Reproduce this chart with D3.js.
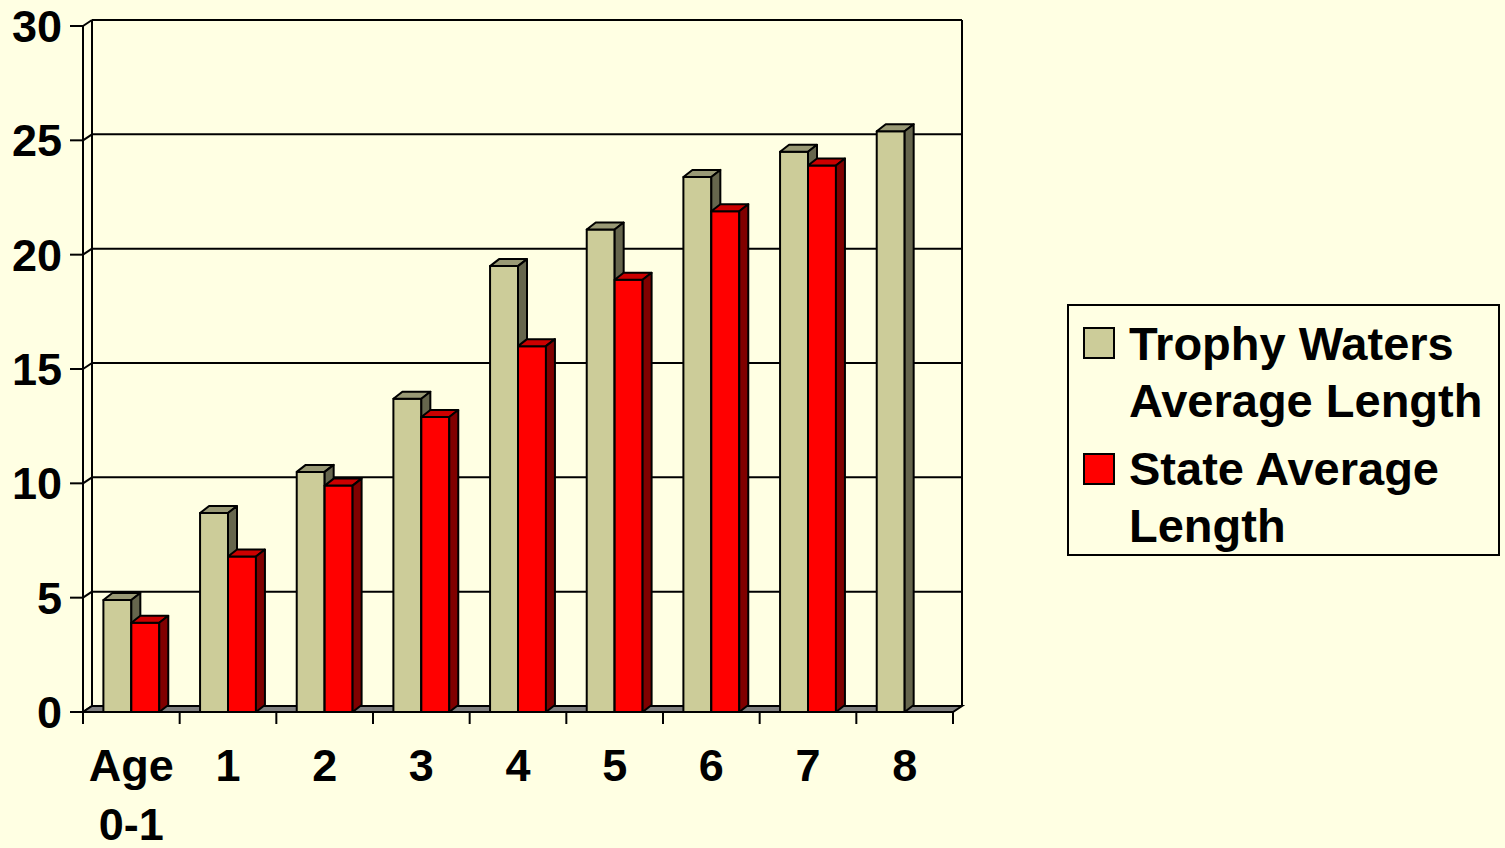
<!DOCTYPE html>
<html><head><meta charset="utf-8">
<script src="https://cdn.jsdelivr.net/npm/d3@7"></script>
<style>
html,body{margin:0;padding:0;background:#FFFFE3;}
svg{display:block;font-family:"Liberation Sans",Arial,sans-serif;font-weight:bold;}
</style></head>
<body>
<svg id="chart" width="1505" height="848"></svg>
<script>
const categories = ["Age\n0-1", "1", "2", "3", "4", "5", "6", "7", "8"];
const trophyValues = [4.9, 8.7, 10.5, 13.7, 19.5, 21.1, 23.4, 24.5, 25.4];
const stateValues = [3.9, 6.8, 9.9, 12.9, 16.0, 18.9, 21.9, 23.9, null];
const yTicks = [0, 5, 10, 15, 20, 25, 30];
const seriesNames = ["Trophy Waters\nAverage Length", "State Average\nLength"];

const svg = d3.select("#chart");
const DX = 9, DY = -6;      // wall depth offset
const BDX = 9, BDY = -7;    // bar depth offset
const left = 83, right = 953;

const y = d3.scaleLinear().domain([0, 30]).range([712, 26]);
const x0 = d3.scaleBand().domain(categories).range([left, right]).paddingInner(0).paddingOuter(0);
const x1 = d3.scaleBand().domain(["trophy", "state"]).range([0, x0.bandwidth()]).paddingInner(0).paddingOuter(0.73);

const styles = {
  trophy: {front: "#CCCC99", top: "#999975", side: "#66664D"},
  state: {front: "#FF0000", top: "#CC0000", side: "#800000"}
};

const g = svg.append("g");
const line = (x1_, y1_, x2_, y2_, w = 2) => g.append("line")
  .attr("x1", x1_).attr("y1", y1_).attr("x2", x2_).attr("y2", y2_)
  .attr("stroke", "#000").attr("stroke-width", w);

// back wall gridlines + left wall diagonals + ticks
yTicks.forEach(t => {
  const yy = y(t);
  line(left - 13, yy, left, yy);
  line(left, yy, left + DX, yy + DY);
  if (t > 0) line(left + DX, yy + DY, right + DX, yy + DY);
});
// back wall edges
line(left + DX, y(30) + DY, left + DX, y(0) + DY);
line(right + DX, y(30) + DY, right + DX, y(0) + DY);
// front axis line
line(left, y(30), left, y(0) + 12);

// floor
g.append("polygon")
  .attr("points", [[left, y(0)], [right, y(0)], [right + DX, y(0) + DY], [left + DX, y(0) + DY]].map(p => p.join(",")).join(" "))
  .attr("fill", "#808080").attr("stroke", "#000").attr("stroke-width", 2).attr("stroke-linejoin", "miter");

// x ticks
x0.domain().forEach((c, i) => {
  const xx = x0(c);
  if (i > 0) line(xx, y(0), xx, y(0) + 12);
});
line(right, y(0), right, y(0) + 12);

// y tick labels
g.selectAll(".ylab").data(yTicks).enter().append("text")
  .attr("x", 62).attr("y", d => y(d) + 16)
  .attr("text-anchor", "end").attr("font-size", 45).attr("fill", "#000")
  .text(d => d);

// x labels
categories.forEach(c => {
  const t = g.append("text").attr("text-anchor", "middle").attr("font-size", 45).attr("fill", "#000");
  c.split("\n").forEach((part, k) => {
    t.append("tspan").attr("x", x0(c) + x0.bandwidth() / 2).attr("y", 781 + k * 59).text(part);
  });
});

// bars
function drawBar(key, cat, v) {
  if (v == null) return;
  const st = styles[key];
  const bx = x0(cat) + x1(key), w = x1.bandwidth();
  const yt = y(v), yb = y(0);
  const bg = g.append("g").attr("stroke", "#000").attr("stroke-width", 2).attr("stroke-linejoin", "round");
  bg.append("rect").attr("x", bx).attr("y", yt).attr("width", w).attr("height", yb - yt).attr("fill", st.front);
  bg.append("polygon").attr("points", [[bx, yt], [bx + w, yt], [bx + w + BDX, yt + BDY], [bx + BDX, yt + BDY]].map(p => p.join(",")).join(" ")).attr("fill", st.top);
  bg.append("polygon").attr("points", [[bx + w, yt], [bx + w + BDX, yt + BDY], [bx + w + BDX, yb + BDY], [bx + w, yb]].map(p => p.join(",")).join(" ")).attr("fill", st.side);
}
categories.forEach((c, i) => {
  drawBar("trophy", c, trophyValues[i]);
  drawBar("state", c, stateValues[i]);
});

// legend
const lg = svg.append("g");
lg.append("rect").attr("x", 1068).attr("y", 305).attr("width", 431).attr("height", 250)
  .attr("fill", "#FFFFE3").attr("stroke", "#000").attr("stroke-width", 2);
const legendKeys = ["trophy", "state"];
legendKeys.forEach((k, i) => {
  const top = 328 + i * 126;
  lg.append("rect").attr("x", 1084).attr("y", top).attr("width", 30).attr("height", 30)
    .attr("fill", styles[k].front).attr("stroke", "#000").attr("stroke-width", 2);
  const t = lg.append("text").attr("font-size", 47).attr("fill", "#000");
  seriesNames[i].split("\n").forEach((part, j) => {
    t.append("tspan").attr("x", 1129).attr("y", 360 + i * 125 + j * 57).text(part);
  });
});
</script>
</body></html>
